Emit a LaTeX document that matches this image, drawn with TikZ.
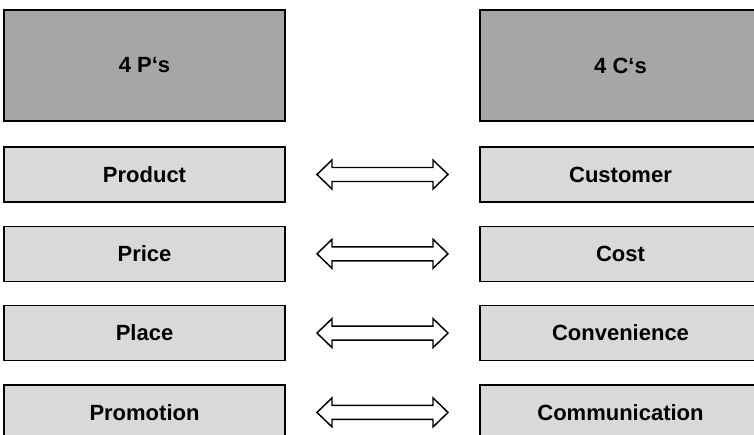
\documentclass[tikz,border=0pt]{standalone}
\usepackage{fontspec}
\setmainfont{Liberation Sans}
\usetikzlibrary{positioning,calc}
\definecolor{darkbox}{HTML}{A6A6A6}
\definecolor{lightbox}{HTML}{D9D9D9}

\begin{document}
\begin{tikzpicture}[x=0.75pt,y=-0.75pt,
 every node/.style={font=\fontsize{16.5}{20}\selectfont\bfseries},
 headbox/.style={draw=black,line width=1.1pt,fill=darkbox,minimum width=210.75pt,minimum height=83.25pt,inner sep=0pt},
 rowbox/.style={draw=black,line width=1.1pt,fill=lightbox,minimum width=210.75pt,minimum height=41.25pt,inner sep=0pt},
 dblarrow/.style={draw=black,line width=1.1pt,fill=white}]
 \useasboundingbox (0,0) rectangle (754,435);
 \clip (0,0) rectangle (754,435);
 \node[headbox] (ps) at (144.5,65.5) {4 P‘s};
 \node[headbox] (cs) at (620.5,65.5) {4 C‘s};
 \foreach \p/\c [count=\i] in {Product/Customer,Price/Cost,Place/Convenience,Promotion/Communication}{
  \node[rowbox] (p\i) at (144.5,95.2+79.3*\i) {\p};
  \node[rowbox] (c\i) at (620.5,95.2+79.3*\i) {\c};
  \coordinate (m\i) at ($(p\i)!0.5!(c\i)$);
  \draw[dblarrow,shift={(m\i)}] (-65.5,0) -- (-50.5,-14.5) -- (-50.5,-7) -- (50.5,-7) -- (50.5,-14.5)
   -- (65.5,0) -- (50.5,14.5) -- (50.5,7) -- (-50.5,7) -- (-50.5,14.5) -- cycle;
 }
\end{tikzpicture}
\end{document}
